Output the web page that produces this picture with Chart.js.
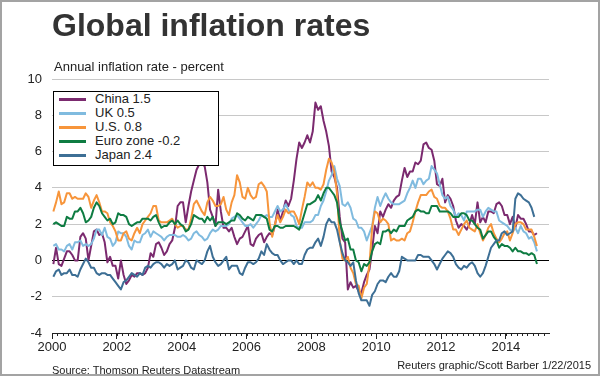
<!DOCTYPE html>
<html>
<head>
<meta charset="utf-8">
<script src="https://cdn.jsdelivr.net/npm/chart.js@4.4.1/dist/chart.umd.min.js"></script>
<style>
  body { margin: 0; background: #fff; }
  #wrap { position: relative; width: 600px; height: 376px; background: #fff; font-family: "Liberation Sans", Arial, sans-serif; color: #222; }
  #chart { position: absolute; left: 0; top: 0; }
  #frame { position: absolute; left: 0; top: 0; width: 600px; height: 376px; box-sizing: border-box; border: 2px solid #a3a3a3; pointer-events: none; }
  #title { position: absolute; left: 52px; top: 9px; font-size: 32px; line-height: 32px; font-weight: bold; color: #333; white-space: nowrap; }
  #subtitle { position: absolute; left: 54px; top: 59px; font-size: 13px; line-height: 16px; white-space: nowrap; }
  #source { position: absolute; left: 52px; top: 364px; font-size: 11px; line-height: 13px; white-space: nowrap; }
  #credit { position: absolute; right: 9px; top: 359px; font-size: 11px; line-height: 13px; white-space: nowrap; }
  #legend { position: absolute; left: 53px; top: 91px; width: 166px; height: 75px; box-sizing: border-box; border: 1px solid #000; background: #fff; padding-top: 0.3px; }
  .row { height: 14px; line-height: 14px; font-size: 13px; position: relative; white-space: nowrap; }
  .row i { position: absolute; left: 5px; top: 5.5px; width: 27px; height: 3px; }
  .row span { position: absolute; left: 41px; top: 0; }
</style>
</head>
<body>
<div id="wrap">
  <canvas id="chart" width="600" height="376"></canvas>
  <div id="title">Global inflation rates</div>
  <div id="subtitle">Annual inflation rate - percent</div>
  <div id="legend"></div>
  <div id="source">Source: Thomson Reuters Datastream</div>
  <div id="credit">Reuters graphic/Scott Barber 1/22/2015</div>
  <div id="frame"></div>
</div>
<script>
// monthly annual inflation, Jan 2000 onwards
const startYear = 2000;

const seriesNames = ['China 1.5', 'UK 0.5', 'U.S. 0.8', 'Euro zone -0.2', 'Japan 2.4'];
const seriesColors = ['#7b2a6f', '#80bbdf', '#f7953b', '#0e7c42', '#3d6f95'];

const china = [
  -0.2, 0.7, -0.2, -0.3, 0.1, 0.5, 0.5, 0.3, 0.0, 0.0, 1.3, 1.5,
  1.2, 0.0, 0.8, 1.6, 1.7, 1.4, 1.5, 1.0, -0.1, 0.2, -0.3, -0.3,
  -1.0, 0.0, -0.8, -1.3, -1.1, -0.8, -0.9, -0.7, -0.7, -0.8, -0.7, -0.4,
  0.4, 0.2, 0.9, 1.0, 0.7, 0.3, 0.5, 0.9, 1.1, 1.8, 3.0, 3.2,
  3.2, 2.1, 3.0, 3.8, 4.4, 5.0, 5.3, 5.3, 5.2, 4.3, 2.8, 2.4,
  1.9, 3.9, 2.7, 1.8, 1.8, 1.6, 1.8, 1.3, 0.9, 1.2, 1.3, 1.6,
  1.9, 0.9, 0.8, 1.2, 1.4, 1.5, 1.0, 1.3, 1.5, 1.4, 1.9, 2.8,
  2.2, 2.7, 3.3, 3.0, 3.4, 4.4, 5.6, 6.5, 6.2, 6.5, 6.9, 6.5,
  7.1, 8.7, 8.3, 8.5, 7.7, 7.1, 6.3, 4.9, 4.6, 4.0, 2.4, 1.2,
  1.0, -1.6, -1.2, -1.5, -1.4, -1.7, -1.8, -1.2, -0.8, -0.5, 0.6, 1.9,
  1.5, 2.7, 2.4, 2.8, 3.1, 2.9, 3.3, 3.5, 3.6, 4.4, 5.1, 4.6,
  4.9, 4.9, 5.4, 5.3, 5.5, 6.4, 6.5, 6.2, 6.1, 5.5, 4.2, 4.1,
  4.5, 3.2, 3.6, 3.4, 3.0, 2.2, 1.8, 2.0, 1.9, 1.7, 2.0, 2.5,
  2.0, 3.2, 2.1, 2.4, 2.1, 2.7, 2.7, 2.6, 3.1, 3.2, 3.0, 2.5,
  2.5, 2.0, 2.4, 1.8, 2.5, 2.3, 2.3, 2.0, 1.6, 1.6, 1.4, 1.5
];

const uk = [
  0.8, 0.9, 0.6, 0.6, 0.5, 0.8, 0.9, 0.6, 1.0, 1.0, 1.1, 0.8,
  0.9, 0.8, 0.9, 1.2, 1.7, 1.7, 1.4, 1.8, 1.3, 1.2, 0.8, 1.0,
  1.6, 1.5, 1.5, 1.3, 0.8, 0.6, 1.1, 1.0, 1.0, 1.4, 1.5, 1.7,
  1.3, 1.6, 1.5, 1.4, 1.3, 1.1, 1.3, 1.4, 1.4, 1.4, 1.3, 1.3,
  1.4, 1.3, 1.1, 1.2, 1.5, 1.6, 1.4, 1.3, 1.1, 1.2, 1.5, 1.7,
  1.6, 1.7, 1.9, 1.9, 1.9, 2.0, 2.3, 2.4, 2.5, 2.3, 2.1, 1.9,
  1.9, 2.0, 1.8, 2.0, 2.2, 2.5, 2.4, 2.5, 2.4, 2.4, 2.7, 3.0,
  2.7, 2.8, 3.1, 2.8, 2.5, 2.4, 1.9, 1.8, 1.8, 2.1, 2.1, 2.1,
  2.2, 2.5, 2.5, 3.0, 3.3, 3.8, 4.4, 4.7, 5.2, 4.5, 4.1, 3.1,
  3.0, 3.2, 2.9, 2.3, 2.2, 1.8, 1.8, 1.6, 1.1, 1.5, 1.9, 2.9,
  3.5, 3.0, 3.4, 3.7, 3.4, 3.2, 3.1, 3.1, 3.1, 3.2, 3.3, 3.7,
  4.0, 4.4, 4.0, 4.5, 4.5, 4.2, 4.4, 4.5, 5.2, 5.0, 4.8, 4.2,
  3.6, 3.4, 3.5, 3.0, 2.8, 2.4, 2.6, 2.5, 2.2, 2.7, 2.7, 2.7,
  2.7, 2.8, 2.8, 2.4, 2.7, 2.9, 2.8, 2.7, 2.7, 2.2, 2.1, 2.0,
  1.9, 1.7, 1.6, 1.8, 1.5, 1.9, 1.6, 1.5, 1.2, 1.3, 1.0, 0.5
];

const us = [
  2.7, 3.2, 3.8, 3.1, 3.2, 3.7, 3.7, 3.4, 3.5, 3.4, 3.4, 3.4,
  3.7, 3.5, 2.9, 3.3, 3.6, 3.2, 2.7, 2.7, 2.6, 2.1, 1.9, 1.6,
  1.1, 1.1, 1.5, 1.6, 1.2, 1.1, 1.5, 1.8, 1.5, 2.0, 2.2, 2.4,
  2.6, 3.0, 3.0, 2.2, 2.1, 2.1, 2.1, 2.2, 2.3, 2.0, 1.8, 1.9,
  1.9, 1.7, 1.7, 2.3, 3.1, 3.3, 3.0, 2.7, 2.5, 3.2, 3.5, 3.3,
  3.0, 3.0, 3.1, 3.5, 2.8, 2.5, 3.2, 3.6, 4.7, 4.3, 3.5, 3.4,
  4.0, 3.6, 3.4, 3.5, 4.2, 4.3, 4.1, 3.8, 2.1, 1.3, 2.0, 2.5,
  2.1, 2.4, 2.8, 2.6, 2.7, 2.7, 2.4, 2.0, 2.8, 3.5, 4.3, 4.1,
  4.3, 4.0, 4.0, 3.9, 4.2, 5.0, 5.6, 5.4, 4.9, 3.7, 1.1, 0.1,
  0.0, 0.2, -0.4, -0.7, -1.3, -1.4, -2.1, -1.5, -1.3, -0.2, 1.8, 2.7,
  2.6, 2.1, 2.3, 2.2, 2.0, 1.1, 1.2, 1.1, 1.1, 1.2, 1.1, 1.5,
  1.6, 2.1, 2.7, 3.2, 3.6, 3.6, 3.6, 3.8, 3.9, 3.5, 3.4, 3.0,
  2.9, 2.9, 2.7, 2.3, 1.7, 1.7, 1.4, 1.7, 2.0, 2.2, 1.8, 1.7,
  1.6, 2.0, 1.5, 1.1, 1.4, 1.8, 2.0, 1.5, 1.2, 1.0, 1.2, 1.5,
  1.6, 1.1, 1.5, 2.0, 2.1, 2.1, 2.0, 1.7, 1.7, 1.7, 1.3, 0.8
];

const euro = [
  2.0, 2.1, 2.0, 1.9, 1.9, 2.4, 2.3, 2.3, 2.7, 2.7, 2.9, 2.6,
  2.1, 2.2, 2.4, 2.9, 3.2, 3.0, 2.6, 2.4, 2.2, 2.3, 2.0, 2.1,
  2.6, 2.5, 2.5, 2.4, 2.0, 1.9, 2.0, 2.1, 2.1, 2.3, 2.3, 2.3,
  2.2, 2.4, 2.5, 2.1, 1.8, 1.9, 1.9, 2.1, 2.2, 2.0, 2.2, 2.0,
  1.9, 1.6, 1.7, 2.0, 2.5, 2.4, 2.3, 2.3, 2.1, 2.4, 2.2, 2.4,
  1.9, 2.1, 2.1, 2.1, 2.0, 2.1, 2.2, 2.2, 2.6, 2.5, 2.3, 2.2,
  2.4, 2.3, 2.2, 2.5, 2.5, 2.5, 2.4, 2.3, 1.7, 1.6, 1.9, 1.9,
  1.8, 1.8, 1.9, 1.9, 1.9, 1.9, 1.8, 1.7, 2.1, 2.6, 3.1, 3.1,
  3.2, 3.3, 3.6, 3.3, 3.7, 4.0, 4.0, 3.8, 3.6, 3.2, 2.1, 1.6,
  1.1, 1.2, 0.6, 0.6, 0.0, -0.1, -0.6, -0.2, -0.3, -0.1, 0.5, 0.9,
  1.0, 0.9, 1.6, 1.6, 1.7, 1.5, 1.7, 1.6, 1.9, 1.9, 1.9, 2.2,
  2.3, 2.4, 2.7, 2.8, 2.7, 2.7, 2.6, 2.6, 3.0, 3.0, 3.0, 2.7,
  2.7, 2.7, 2.7, 2.6, 2.4, 2.4, 2.4, 2.6, 2.6, 2.5, 2.2, 2.2,
  2.0, 1.8, 1.7, 1.2, 1.4, 1.6, 1.6, 1.3, 1.1, 0.7, 0.9, 0.8,
  0.8, 0.7, 0.5, 0.7, 0.5, 0.5, 0.4, 0.4, 0.3, 0.4, 0.3, -0.2
];

// japan stops at Nov 2014
const japan = [
  -0.9, -0.6, -0.5, -0.8, -0.7, -0.7, -0.5, -0.8, -0.8, -0.9, -0.5, -0.2,
  0.1, -0.1, -0.4, -0.4, -0.7, -0.8, -0.7, -0.7, -0.8, -0.8, -1.0, -1.2,
  -1.4, -1.6, -1.2, -1.1, -0.9, -0.7, -0.8, -0.9, -0.7, -0.8, -0.4, -0.3,
  -0.4, -0.2, -0.1, -0.1, -0.2, -0.4, -0.2, -0.3, -0.2, 0.0, -0.5, -0.4,
  -0.3, 0.0, -0.1, -0.4, -0.5, 0.0, -0.1, -0.2, 0.0, 0.5, 0.8, 0.2,
  -0.1, -0.3, -0.2, 0.0, 0.2, -0.5, -0.3, -0.3, -0.3, -0.7, -0.8, -0.4,
  -0.1, -0.1, -0.2, -0.1, 0.1, 0.5, 0.3, 0.9, 0.6, 0.4, 0.3, 0.3,
  0.0, -0.2, -0.1, 0.0, 0.0, -0.2, 0.0, -0.2, -0.2, 0.3, 0.6, 0.7,
  0.7, 1.0, 1.2, 0.8, 1.3, 2.0, 2.3, 2.1, 2.1, 1.7, 1.0, 0.4,
  0.0, -0.1, -0.3, -0.1, -1.1, -1.8, -2.2, -2.2, -2.2, -2.5, -1.9, -1.7,
  -1.3, -1.1, -1.1, -1.2, -0.9, -0.7, -0.9, -0.9, -0.6, 0.2, 0.1, 0.0,
  0.0, 0.0, 0.0, 0.3, 0.3, 0.2, 0.2, 0.2, 0.0, -0.2, -0.5, -0.2,
  0.1, 0.3, 0.5, 0.4, 0.2, -0.2, -0.4, -0.5, -0.3, -0.4, -0.2, -0.1,
  -0.3, -0.7, -0.9, -0.7, -0.3, 0.2, 0.7, 0.9, 1.1, 1.1, 1.5, 1.6,
  1.4, 1.5, 1.6, 3.4, 3.7, 3.6, 3.4, 3.3, 3.2, 2.9, 2.4
];

const yTicks = [-4, -2, 0, 2, 4, 6, 8, 10];
const xTickYears = [2000, 2002, 2004, 2006, 2008, 2010, 2012, 2014];

const font = '"Liberation Sans", Arial, sans-serif';
const allSeries = [china, uk, us, euro, japan];

// values are plotted mid-month
function toPoints(vals) {
  return vals.map((v, i) => ({ x: startYear + (i + 0.5) / 12, y: v }));
}

const datasets = allSeries.map((vals, i) => ({
  label: seriesNames[i],
  data: toPoints(vals),
  borderColor: seriesColors[i],
  borderWidth: 2,
  pointRadius: 0,
  tension: 0,
  borderJoinStyle: 'round',
  order: allSeries.length - i
}));

// small ticks every two months under the x axis
const minorTicks = {
  id: 'minorTicks',
  afterDraw(chart) {
    const xs = chart.scales.x;
    const c = chart.ctx;
    c.save();
    c.strokeStyle = '#222';
    c.lineWidth = 1;
    c.beginPath();
    for (let m = 0; startYear + m / 12 <= xs.max + 1e-9; m += 2) {
      const px = Math.round(xs.getPixelForValue(startYear + m / 12)) + 0.5;
      c.moveTo(px, xs.top);
      c.lineTo(px, xs.top + 3);
    }
    c.stroke();
    c.restore();
  }
};

const chart = new Chart(document.getElementById('chart'), {
  type: 'line',
  data: { datasets: datasets },
  options: {
    responsive: false,
    animation: false,
    layout: { padding: { left: 0, right: 51, top: 79, bottom: 0 } },
    plugins: { legend: { display: false }, tooltip: { enabled: false } },
    scales: {
      x: {
        type: 'linear',
        min: 2000,
        max: 2015.33,
        border: { display: true, color: '#222', width: 1 },
        grid: { drawOnChartArea: false, drawTicks: true, tickLength: 6, tickColor: '#222' },
        afterBuildTicks: s => { s.ticks = xTickYears.map(v => ({ value: v })); },
        ticks: {
          autoSkip: false, maxRotation: 0, padding: 1, color: '#222',
          font: { family: font, size: 13 },
          callback: v => String(v)
        },
        afterFit: s => { s.height = 43; }
      },
      y: {
        min: -4,
        max: 10,
        border: { display: false },
        grid: {
          drawTicks: false,
          color: c => c.tick.value === 0 ? '#000' : '#c8c8c8',
          lineWidth: 1
        },
        afterBuildTicks: s => { s.ticks = yTicks.map(v => ({ value: v })); },
        ticks: { padding: 10, color: '#222', font: { family: font, size: 13 } },
        afterFit: s => { s.width = 52; }
      }
    }
  },
  plugins: [minorTicks]
});

// boxed legend
const legend = document.getElementById('legend');
chart.data.datasets.forEach(ds => {
  const row = document.createElement('div');
  row.className = 'row';
  const sw = document.createElement('i');
  sw.style.background = ds.borderColor;
  const tx = document.createElement('span');
  tx.textContent = ds.label;
  row.appendChild(sw);
  row.appendChild(tx);
  legend.appendChild(row);
});
</script>
</body>
</html>
